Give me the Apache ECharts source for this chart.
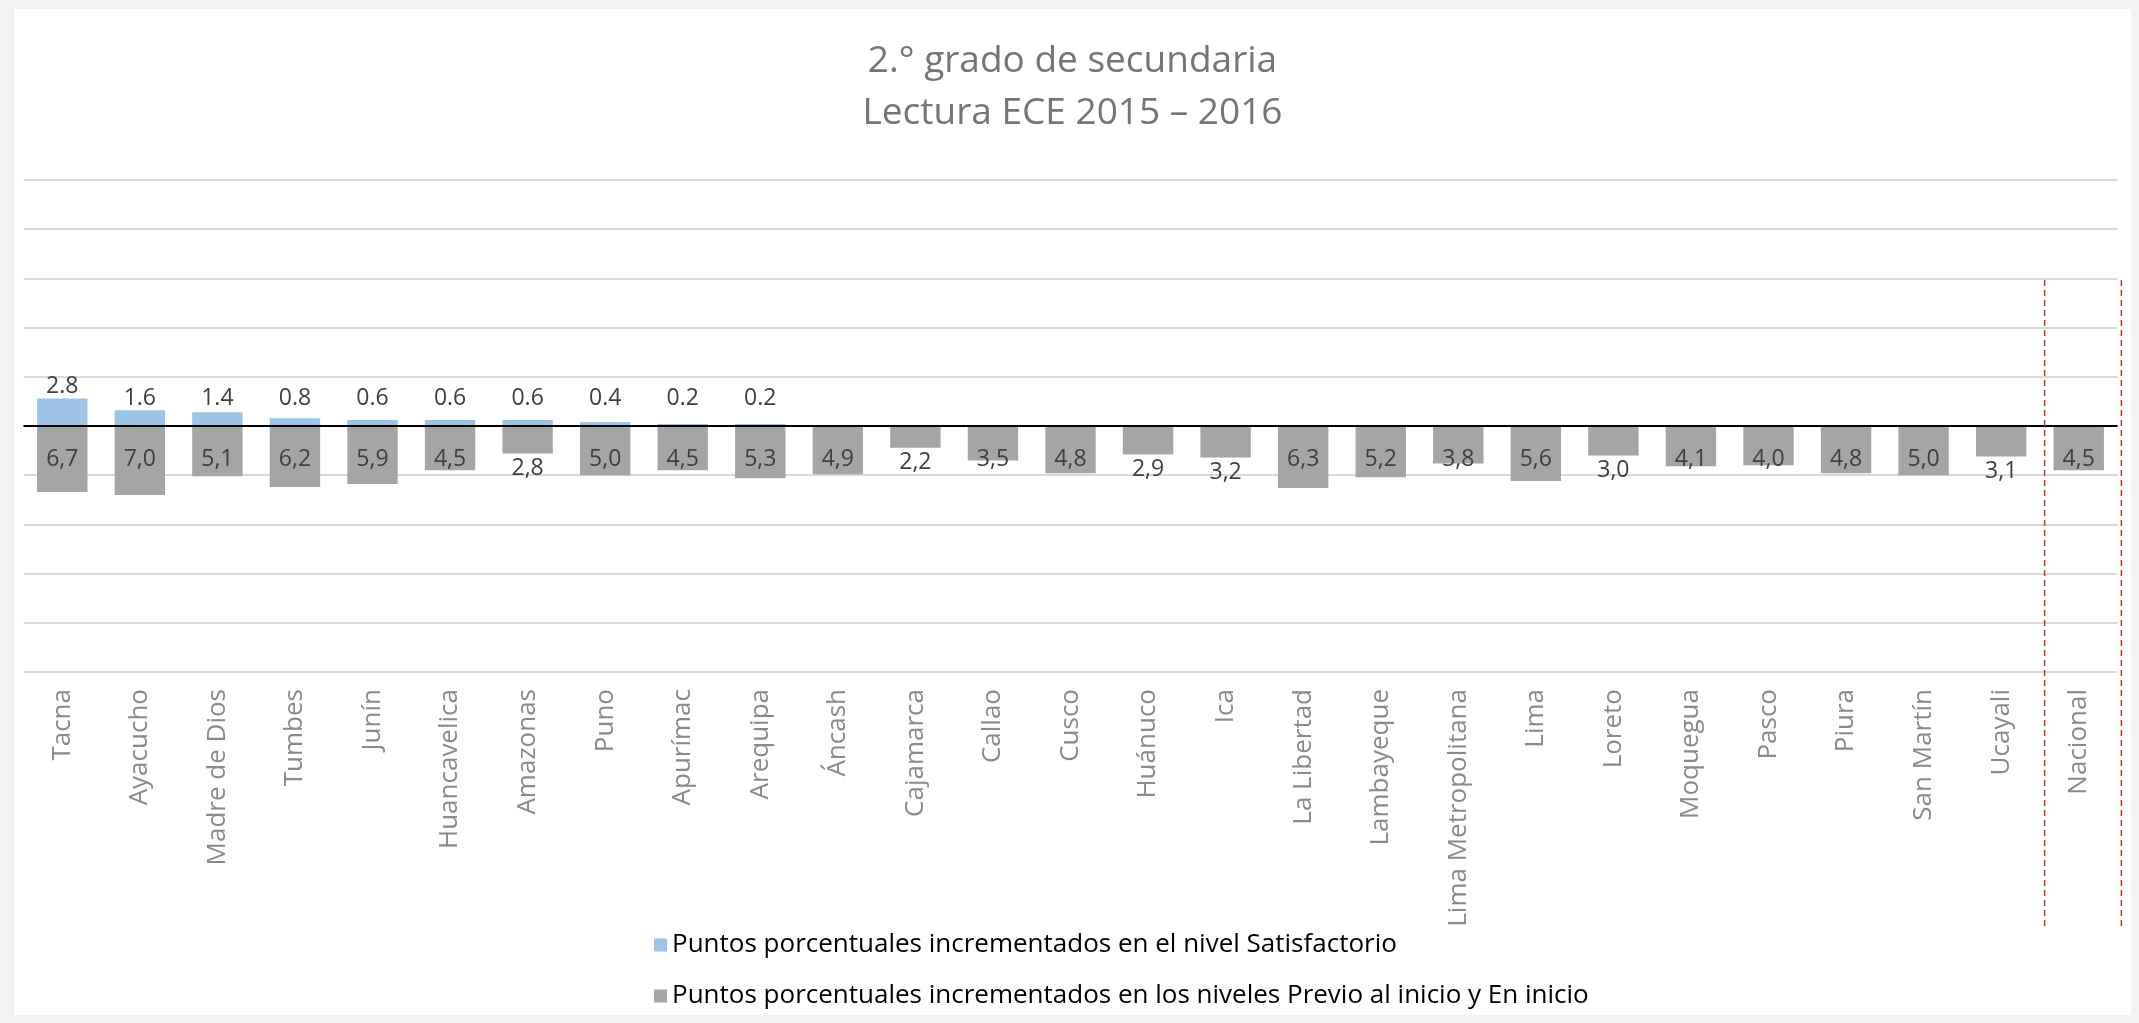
<!DOCTYPE html>
<html>
<head>
<meta charset="utf-8">
<script src="https://cdn.jsdelivr.net/npm/echarts@6/dist/echarts.min.js"></script>
<style>
  html, body { margin: 0; padding: 0; background: #f2f2f2; width: 2139px; height: 1023px; overflow: hidden; }
  #chart { position: absolute; left: 14px; top: 9px; width: 2117px; height: 1006px; background: #ffffff; }
</style>
</head>
<body>
<div id="chart"></div>
<script>
// ---- data ----
const regions = ['Tacna', 'Ayacucho', 'Madre de Dios', 'Tumbes', 'Junín', 'Huancavelica', 'Amazonas', 'Puno',
  'Apurímac', 'Arequipa', 'Áncash', 'Cajamarca', 'Callao', 'Cusco', 'Huánuco', 'Ica', 'La Libertad',
  'Lambayeque', 'Lima Metropolitana', 'Lima', 'Loreto', 'Moquegua', 'Pasco', 'Piura', 'San Martín',
  'Ucayali', 'Nacional'];
const satisfactorio = [2.8, 1.6, 1.4, 0.8, 0.6, 0.6, 0.6, 0.4, 0.2, 0.2, null, null, null, null, null, null,
  null, null, null, null, null, null, null, null, null, null, null];
const previoEnInicio = [-6.7, -7.0, -5.1, -6.2, -5.9, -4.5, -2.8, -5.0, -4.5, -5.3, -4.9, -2.2, -3.5, -4.8,
  -2.9, -3.2, -6.3, -5.2, -3.8, -5.6, -3.0, -4.1, -4.0, -4.8, -5.0, -3.1, -4.5];
const seriesNames = ['Puntos porcentuales incrementados en el nivel Satisfactorio',
  'Puntos porcentuales incrementados en los niveles Previo al inicio y En inicio'];
const titleLines = ['2.° grado de secundaria', 'Lectura ECE 2015 – 2016'];
const yMin = -25, yMax = 25, yInterval = 5;

// ---- chart ----
const FONT = 'Open Sans';
const chart = echarts.init(document.getElementById('chart'), null, { renderer: 'canvas' });

const baseOption = {
  animation: false,
  backgroundColor: '#ffffff',
  textStyle: { fontFamily: FONT },
  title: {
    text: titleLines.join('\n'),
    left: 'center',
    top: 21,
    textStyle: { fontFamily: FONT, fontSize: 37, fontWeight: 'normal', color: '#757575', lineHeight: 52 }
  },
  legend: {
    orient: 'vertical',
    left: 640,
    top: 921,
    padding: 0,
    itemWidth: 13,
    itemHeight: 13,
    itemGap: 21,
    icon: 'rect',
    textStyle: { fontFamily: FONT, fontSize: 26, color: '#000000', lineHeight: 30 },
    data: seriesNames
  },
  grid: { left: 9.5, right: 13.5, top: 171, bottom: 343, containLabel: false },
  xAxis: {
    type: 'category',
    data: regions,
    axisLine: { show: false, onZero: false },
    axisTick: { show: false },
    axisLabel: { interval: 0, rotate: 90, margin: 17, fontFamily: FONT, fontSize: 26, color: '#8a8a8a' },
    splitLine: { show: false }
  },
  yAxis: {
    type: 'value',
    min: yMin, max: yMax, interval: yInterval,
    axisLine: { show: false },
    axisTick: { show: false },
    axisLabel: { show: false },
    splitLine: { show: true, lineStyle: { color: '#d9d9d9', width: 2 } }
  },
  series: [
    {
      name: seriesNames[0],
      type: 'bar',
      data: satisfactorio,
      barWidth: '65%',
      barGap: '-100%',
      itemStyle: { color: '#9dc3e6' },
      z: 3
    },
    {
      name: seriesNames[1],
      type: 'bar',
      data: previoEnInicio,
      barWidth: '65%',
      itemStyle: { color: '#a5a5a5' },
      z: 2,
      markLine: {
        silent: true,
        symbol: 'none',
        label: { show: false },
        lineStyle: { color: '#000000', width: 2, type: 'solid' },
        data: [{ yAxis: 0 }],
        z: 5
      }
    }
  ]
};
chart.setOption(baseOption);

// label placement derived from the axis scale
const zeroY = chart.convertToPixel({ yAxisIndex: 0 }, 0);
const LH = 24;
const labelBase = { show: true, fontFamily: FONT, fontSize: 23, color: '#404040', lineHeight: LH };

const satData = satisfactorio.map(function (v) {
  if (v === null) return { value: null };
  const top = chart.convertToPixel({ yAxisIndex: 0 }, v);
  const center = Math.min(top - 11, zeroY - 28);
  const dist = Math.max(0, top - LH / 2 - center);
  return {
    value: v,
    label: Object.assign({}, labelBase, { position: 'top', distance: dist, formatter: v.toFixed(1) })
  };
});

const preData = previoEnInicio.map(function (v) {
  const txt = Math.abs(v).toFixed(1).replace('.', ',');
  const end = chart.convertToPixel({ yAxisIndex: 0 }, v);
  const inside = (end - zeroY) > 34;
  return {
    value: v,
    label: inside
      ? Object.assign({}, labelBase, { position: 'insideTop', distance: 21, formatter: txt })
      : Object.assign({}, labelBase, { position: 'bottom', distance: 3, formatter: txt })
  };
});

chart.setOption({ series: [{ data: satData }, { data: preData }] });

// dashed separators around the "Nacional" column
const n = regions.length;
const cLast = chart.convertToPixel({ xAxisIndex: 0 }, regions[n - 1]);
const cPrev = chart.convertToPixel({ xAxisIndex: 0 }, regions[n - 2]);
const step = cLast - cPrev;
const xa = cLast - step * 0.44;
const xb = cLast + step * 0.55;
const dashStyle = { stroke: '#c83232', lineWidth: 1.5, lineDash: [6, 4] };
chart.setOption({
  graphic: [
    { type: 'line', shape: { x1: xa, y1: 271, x2: xa, y2: 920 }, style: dashStyle, z: 10 },
    { type: 'line', shape: { x1: xb, y1: 271, x2: xb, y2: 920 }, style: dashStyle, z: 10 }
  ]
});
</script>
</body>
</html>
